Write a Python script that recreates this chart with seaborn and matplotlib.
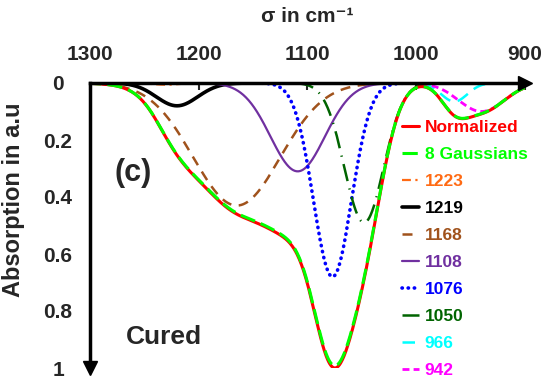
import numpy as np
import pandas as pd
import seaborn as sns
import matplotlib.pyplot as plt

# peak parameters (centre cm-1, depth, width cm-1)
labels = ["1223", "1219", "1168", "1108", "1076", "1050", "966", "942"]
centers = [1230, 1220, 1165, 1109, 1077, 1048, 965, 940]
depths = [0.006, 0.08, 0.43, 0.31, 0.68, 0.49, 0.065, 0.10]
widths = [12, 19, 40, 25, 17.5, 18, 12, 21]

colors = ["#FF6A13", "black", "#A0521C", "#7030A0", "#0000FF", "#006400", "#00FFFF", "#FF00FF"]
dashes = [(4, 2, 1, 2), "", (4, 3), "", (0.1, 1.6), (7, 3, 0.5, 3), (5, 3), (2.5, 1.5)]
lws = [1.6, 2.6, 1.8, 1.6, 2.6, 1.8, 1.8, 2.0]

wn = np.arange(900, 1300.5, 0.5)

sns.set_style("white")
plt.rcParams['font.family'] = ['Liberation Sans', 'DejaVu Sans']
plt.rcParams['font.weight'] = 'bold'

fig = plt.figure(figsize=(5.5, 3.84), dpi=100)
ax = fig.add_axes([90 / 550, 16 / 384, 435 / 550, 285 / 384])

comps = {}
for lab, c, d, w in zip(labels, centers, depths, widths):
    comps[lab] = d * np.exp(-0.5 * ((wn - c) / w) ** 2)
fit = np.sum(list(comps.values()), axis=0)
normalized = fit / fit.max()

handles = {}
for lab, col, ds, lw in zip(labels, colors, dashes, lws):
    df = pd.DataFrame({"wn": wn, "a": comps[lab]})
    sns.lineplot(data=df, x="wn", y="a", color=col, lw=lw, ax=ax, label=lab)
    line = ax.lines[-1]
    if ds != "":
        line.set_dashes(ds)
    if lab == "1076":
        line.set_dash_capstyle("round")
    handles[lab] = line

sns.lineplot(x=wn, y=normalized, color="red", lw=2.2, ax=ax, label="Normalized")
handles["Normalized"] = ax.lines[-1]
sns.lineplot(x=wn, y=fit, color="#00FF00", lw=2.2, ax=ax, label="8 Gaussians")
ax.lines[-1].set_dashes((5, 2))
handles["8 Gaussians"] = ax.lines[-1]

ax.set_xlim(1300, 900)
ax.set_ylim(1, 0)
ax.xaxis.tick_top()
ax.set_xticks([1300, 1200, 1100, 1000, 900])
ax.set_yticks([0, 0.2, 0.4, 0.6, 0.8, 1])
ax.set_yticklabels(["0", "0.2", "0.4", "0.6", "0.8", "1"])
ax.tick_params(axis="x", direction="in", length=5, width=1.5, pad=14, labelsize=15)
ax.tick_params(axis="y", direction="in", length=5, width=1.5, pad=23, labelsize=15)
for t in ax.get_yticklabels():
    t.set_horizontalalignment("center")
for t in ax.get_xticklabels() + ax.get_yticklabels():
    t.set_fontweight("bold")

for s in ["right", "bottom"]:
    ax.spines[s].set_visible(False)
for s in ["top", "left"]:
    ax.spines[s].set_linewidth(2.5)
    ax.spines[s].set_color("black")
ax.plot(1, 1, ">", color="black", ms=10, transform=ax.transAxes, clip_on=False)
ax.plot(0, 0, "v", color="black", ms=10, transform=ax.transAxes, clip_on=False)

ax.set_xlabel("")
ax.set_ylabel("Absorption in a.u", fontsize=17, fontweight="bold")
ax.yaxis.set_label_coords(-0.149, 0.59)
fig.text(307 / 550, 1 - 17 / 384, "σ in cm⁻¹", ha="center", va="center",
         fontsize=15, fontweight="bold")
fig.text(133 / 550, 1 - 173 / 384, "(c)", ha="center", va="center", fontsize=22, fontweight="bold")
fig.text(164 / 550, 1 - 337 / 384, "Cured", ha="center", va="center", fontsize=19, fontweight="bold")

order = ["Normalized", "8 Gaussians"] + labels
ax.legend([handles[k] for k in order], order, loc="upper left",
          bbox_to_anchor=(402 / 550, 1 - 120 / 384), bbox_transform=fig.transFigure,
          frameon=False, labelcolor="linecolor", handlelength=1.0, handletextpad=0.3,
          labelspacing=0.68, borderpad=0, borderaxespad=0,
          prop={"size": 12.5, "weight": "bold"})

fig.savefig("out.png", dpi=100)
